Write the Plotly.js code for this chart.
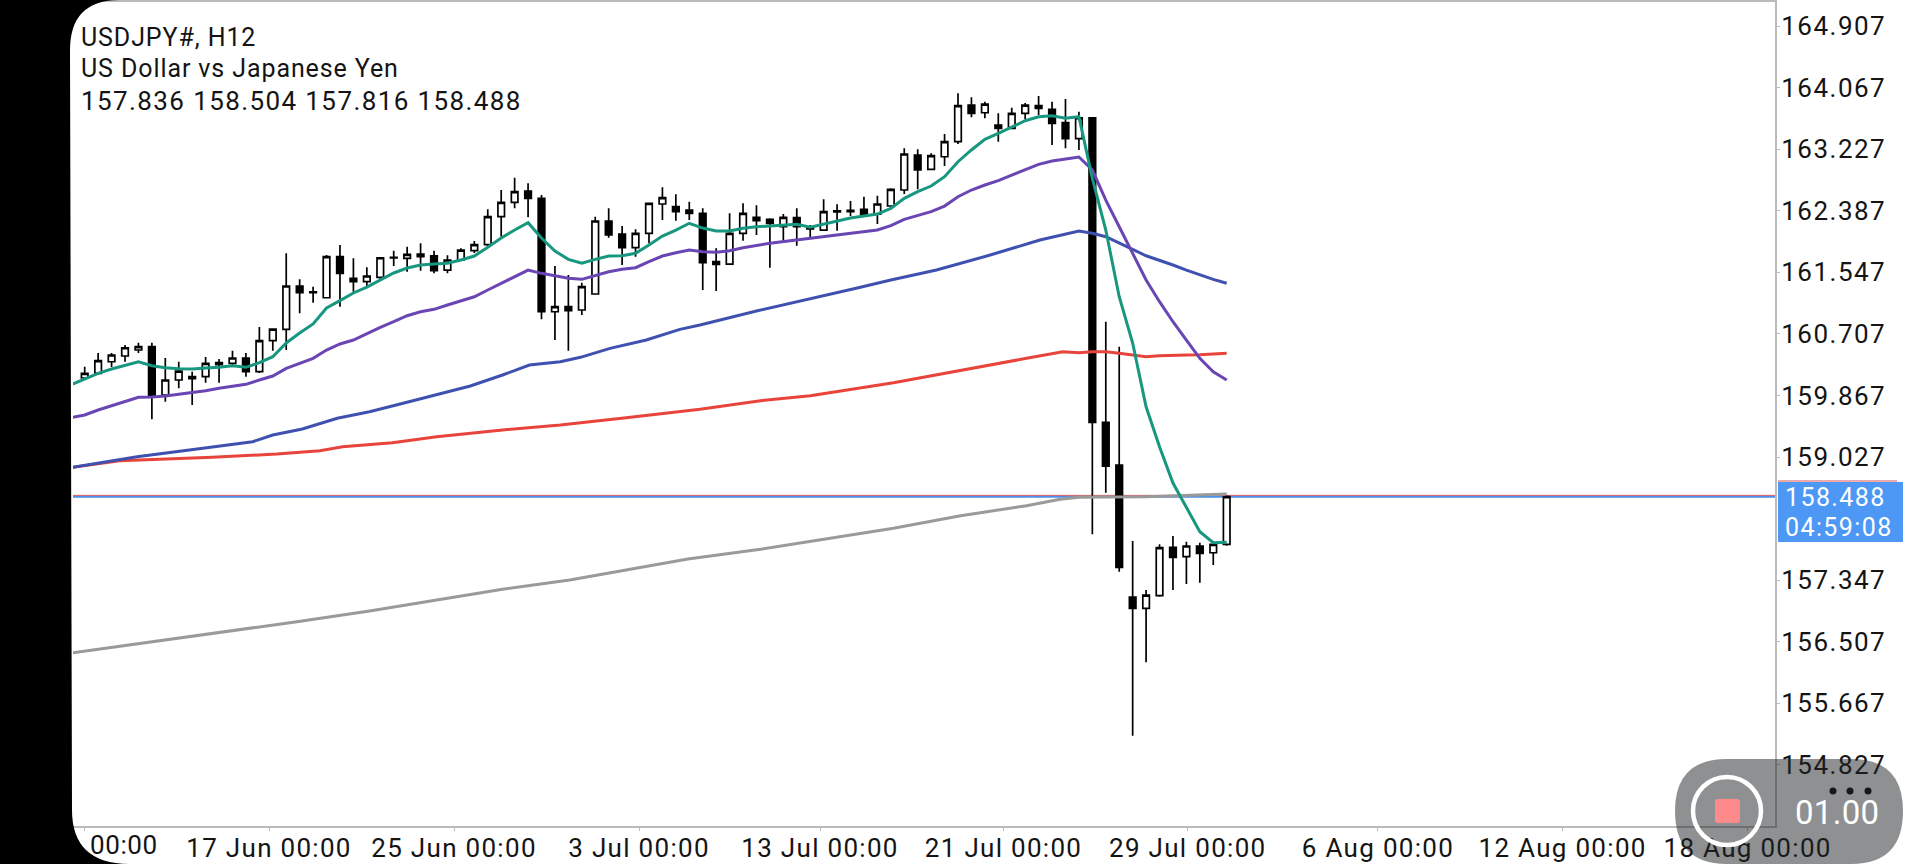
<!DOCTYPE html>
<html>
<head>
<meta charset="utf-8">
<script src="https://cdn.plot.ly/plotly-3.0.1.min.js"></script>
<style>
html,body{margin:0;padding:0;background:#fff;overflow:hidden}
.ytick text{letter-spacing:1.5px}
.xtick text{letter-spacing:1.3px}
.annotation-text{letter-spacing:.9px}
.annotation[data-index="2"] text,.annotation[data-index="3"] text,.annotation[data-index="4"] text{letter-spacing:1.4px}
.annotation[data-index="5"] text{letter-spacing:.6px}
.annotation[data-index="6"] text{letter-spacing:.3px}
</style>
</head>
<body>
<div id="graph" style="width:1920px;height:864px"></div>
<script>
const openP = [160.105,160.169,160.327,160.405,160.487,160.532,159.873,160.078,160.123,160.123,
160.314,160.305,160.378,160.191,160.614,160.769,161.360,161.282,161.200,161.760,
161.465,161.419,161.479,161.752,161.738,161.797,161.773,161.578,161.715,161.842,
161.924,162.306,162.502,162.656,162.557,161.009,161.078,161.033,161.251,162.247,
162.070,161.883,162.079,162.479,162.442,162.397,162.352,161.692,161.660,162.079,
162.297,162.270,162.169,162.292,162.156,162.124,162.387,162.393,162.407,162.342,
162.452,162.670,163.147,162.952,163.124,163.329,163.829,163.724,163.557,163.512,
163.716,163.820,163.771,163.588,163.370,163.656,159.501,158.918,157.117,156.963,
157.135,157.795,157.667,157.813,157.721,157.836];
const highP = [160.259,160.446,160.446,160.555,160.587,160.587,160.378,160.327,160.191,160.391,
160.364,160.477,160.446,160.801,160.773,161.806,161.452,161.351,161.783,161.919,
161.738,161.615,161.746,161.842,161.896,161.943,161.842,161.779,161.874,161.974,
162.407,162.670,162.838,162.761,162.602,161.633,161.510,161.405,162.306,162.420,
162.179,162.134,162.497,162.707,162.611,162.510,162.420,161.874,162.352,162.488,
162.461,162.284,162.342,162.420,162.192,162.543,162.475,162.520,162.578,162.592,
162.693,163.239,163.225,163.171,163.434,163.989,163.935,163.875,163.716,163.793,
163.857,163.952,163.875,163.911,163.738,163.666,160.873,160.532,157.881,157.213,
157.836,157.949,157.872,157.858,157.881,158.504];
const lowP = [160.078,160.146,160.255,160.327,160.446,159.542,159.782,159.964,159.737,160.041,
160.041,160.282,160.123,160.173,160.477,160.487,160.988,161.132,161.200,161.078,
161.282,161.351,161.442,161.633,161.555,161.569,161.533,161.533,161.715,161.810,
161.896,162.033,162.420,162.297,160.906,160.623,160.477,160.964,161.251,162.019,
161.647,161.760,161.943,162.261,162.251,162.261,161.306,161.292,161.660,161.978,
162.056,161.610,161.978,161.910,162.011,162.115,162.115,162.315,162.306,162.206,
162.442,162.615,162.679,162.952,162.997,163.297,163.662,163.648,163.329,163.512,
163.634,163.693,163.284,163.239,163.215,157.973,158.540,157.462,155.225,156.226,
157.121,157.213,157.295,157.312,157.554,157.816];
const closeP = [160.169,160.341,160.419,160.518,160.532,159.850,160.078,160.200,160.095,160.305,
160.286,160.378,160.191,160.614,160.773,161.360,161.269,161.269,161.760,161.533,
161.419,161.497,161.746,161.742,161.793,161.760,161.569,161.715,161.851,161.924,
162.306,162.502,162.647,162.557,161.009,161.078,161.023,161.351,162.247,162.056,
161.883,162.079,162.488,162.565,162.374,162.352,161.678,161.656,162.079,162.352,
162.251,162.216,162.297,162.169,162.138,162.374,162.370,162.374,162.342,162.479,
162.679,163.161,162.943,163.138,163.329,163.820,163.716,163.843,163.512,163.716,
163.829,163.784,163.580,163.370,163.656,159.501,158.904,157.522,156.963,157.144,
157.790,157.659,157.813,157.713,157.836,158.488];
const bars = openP.map((v,i)=>i);

const tealX = [-0.9,0,1,2,3,4,5,6,7,8,9,10,11,12,13,14,15,16,17,18,19,20,21,22,23,24,25,26,27,28,29,30,31,32,33,34,35,36,37,38,39,40,41,42,43,44,45,46,47,48,49,50,51,52,53,54,55,56,57,58,59,60,61,62,63,64,65,66,67,68,69,70,71,72,73,74,75,76,77,78,79,80,81,82,83,84,85];
const tealY = [160.023,160.087,160.169,160.228,160.282,160.327,160.273,160.245,160.232,160.228,160.241,160.251,160.273,160.251,160.314,160.396,160.583,160.719,160.842,161.060,161.160,161.265,161.346,161.442,161.538,161.606,161.647,161.660,161.670,161.715,161.769,161.888,162.015,162.124,162.224,162.015,161.838,161.724,161.670,161.724,161.769,161.773,161.806,161.919,162.042,162.124,162.216,162.151,162.110,162.110,162.147,162.169,162.179,162.192,162.202,162.161,162.206,162.251,162.288,162.315,162.342,162.420,162.557,162.647,162.724,162.851,163.056,163.216,163.362,163.443,163.533,163.615,163.670,163.684,163.648,163.670,162.829,162.124,161.214,160.582,159.713,159.168,158.672,158.331,158.008,157.858,157.863];

const purpleX = [-0.9,0,1,2,3,4,5,6,7,8,9,10,11,12,13,14,15,16,17,18,19,20,21,22,23,24,25,26,27,28,29,30,31,32,33,34,35,36,37,38,39,40,41,42,43,44,45,46,47,48,49,51,53,55,57,59,60,61,63,64,65,66,67,68,69,70,71,72,73,74,75,76,77,78,79,80,81,82,83,84,85];
const purpleY = [159.569,159.600,159.668,159.727,159.791,159.842,159.846,159.859,159.883,159.904,159.932,159.964,159.996,160.019,160.078,160.132,160.237,160.305,160.374,160.487,160.569,160.623,160.715,160.797,160.873,160.955,161.009,161.042,161.101,161.155,161.214,161.306,161.397,161.497,161.578,161.533,161.501,161.465,161.451,161.501,161.555,161.588,161.610,161.692,161.769,161.814,161.851,161.828,161.820,161.842,161.883,161.943,161.988,162.025,162.070,162.124,162.183,162.270,162.374,162.451,162.578,162.670,162.738,162.797,162.874,162.952,163.020,163.065,163.089,163.120,162.943,162.533,162.169,161.806,161.442,161.146,160.873,160.623,160.374,160.191,160.078];

const blueX = [-0.9,3.9,8.8,12.5,14,16.2,18.8,21.2,23.7,26.2,28.7,31.1,33.1,35.4,36.9,39.1,41.8,44.3,45.8,50,55,57.5,60,63.4,67.4,71.1,74,75,76,77,78,79,80,81,82,83,84,85];
const blueY = [158.887,159.031,159.146,159.236,159.327,159.409,159.555,159.645,159.760,159.873,159.996,160.146,160.282,160.327,160.387,160.509,160.623,160.769,160.828,161.019,161.224,161.333,161.442,161.578,161.783,161.988,162.110,162.079,162.033,161.951,161.861,161.773,161.715,161.647,161.578,161.510,161.451,161.397];

const redX = [-0.9,2.6,9.5,14.3,17.5,19.2,22.9,26.2,31.1,35.4,40.3,45.8,50.3,54,60.2,65.2,70.1,72.8,74,75,76,77,78,79,80,81,82,83,84,85];
const redY = [158.887,158.977,159.023,159.068,159.113,159.168,159.222,159.304,159.396,159.464,159.563,159.678,159.795,159.864,160.041,160.214,160.374,160.464,160.450,160.464,160.464,160.442,160.419,160.395,160.409,160.419,160.419,160.423,160.432,160.442];

const grayX = [-0.9,5.1,9.4,15.8,21.2,26.2,31.1,36.1,44.9,50.3,55.2,60.2,65.2,70.1,72.6,74,76,79,85];
const grayY = [156.357,156.507,156.612,156.780,156.926,157.076,157.222,157.349,157.636,157.768,157.908,158.054,158.226,158.363,158.450,158.477,158.481,158.486,158.523];

const yTicks = [164.907,164.067,163.227,162.387,161.547,160.707,159.867,159.027,157.347,156.507,155.667,154.827];
const xTicks = [-0.03,13.72,27.49,41.26,54.73,68.39,82.1,96.26,110,123.77];
const xTickText = ['','17 Jun 00:00','25 Jun 00:00','3 Jul 00:00','13 Jul 00:00','21 Jul 00:00','29 Jul 00:00','6 Aug 00:00','12 Aug 00:00','18 Aug 00:00'];
const lastBid = 158.488;
const lastAsk = 158.504;

// plot box in screen pixels
const L = 73, R = 1775, T = 2, B = 826;
const fx = px => ((px-L)/(R-L)).toFixed(5);
const fy = py => ((B-py)/(B-T)).toFixed(5);
// path from screen pixels, for the decorations around the chart only
function pp(cmds){
    return cmds.map(c => c[0] + c.slice(1).map((v,i)=> i%2==0 ? fx(v) : fy(v)).join(',')).join(' ');
}

function maLine(x,y,color,w){
    return {x:x,y:y,type:'scatter',mode:'lines',line:{color:color,width:w},hoverinfo:'skip',showlegend:false};
}

const data = [
    {
        x:bars,open:openP,high:highP,low:lowP,close:closeP,
        type:'candlestick',showlegend:false,whiskerwidth:0,width:0.42,
        increasing:{line:{color:'#000',width:1.7},fillcolor:'#fff'},
        decreasing:{line:{color:'#000',width:1.7},fillcolor:'#000'}
    },
    maLine(grayX,grayY,'#9a9a9a',3),
    maLine(redX,redY,'#e8443c',3),
    maLine(blueX,blueY,'#3f51b0',3),
    maLine(purpleX,purpleY,'#6a45b4',3),
    maLine(tealX,tealY,'#17977f',3)
];

const paperShape = (path,fill) => ({type:'path',xref:'paper',yref:'paper',layer:'above',path:path,fillcolor:fill,line:{width:0}});

const shapes = [
    // bid and ask lines
    {type:'line',xref:'paper',yref:'y',x0:0,x1:1,y0:lastBid,y1:lastBid,layer:'below',line:{color:'#4a90e8',width:2.5}},
    {type:'line',xref:'paper',yref:'y',x0:0,x1:1,y0:lastAsk,y1:lastAsk,layer:'below',line:{color:'#e2615f',width:1}},
    // price box
    paperShape(pp([['M',1778,482],['L',1903,482],['L',1903,542],['L',1778,542],['Z']]),'#4d97f5'),
    {type:'line',xref:'paper',yref:'paper',layer:'above',x0:fx(1778),x1:fx(1897),y0:fy(481),y1:fy(481),line:{color:'#d8565c',width:1}},
    // phone edge
    paperShape(pp([['M',0,0],['L',120,0],['Q',70,0,70,50],['L',72,810],['Q',72,864,130,864],['L',0,864],['Z']]),'#000'),
    // recorder widget
    paperShape(pp([['M',1727,759],['L',1851,759],['Q',1903,759,1903,811],['Q',1903,864,1851,864],['L',1727,864],['Q',1675,864,1675,811],['Q',1675,759,1727,759],['Z']]),'rgba(30,33,36,0.5)'),
    {type:'circle',xref:'paper',yref:'paper',layer:'above',x0:fx(1693),x1:fx(1761),y0:fy(845),y1:fy(777),line:{color:'#fff',width:4.5},fillcolor:'rgba(0,0,0,0)'},
    paperShape(pp([['M',1718,799],['L',1737,799],['Q',1740,799,1740,802],['L',1740,820],['Q',1740,823,1737,823],['L',1718,823],['Q',1715,823,1715,820],['L',1715,802],['Q',1715,799,1718,799],['Z']]),'#ff8a8c')
];
[1833,1850,1868].forEach(cx => shapes.push({type:'circle',xref:'paper',yref:'paper',layer:'above',
    x0:fx(cx-3.5),x1:fx(cx+3.5),y0:fy(794.5),y1:fy(787.5),fillcolor:'#15181b',line:{width:0}}));

const note = (px,py,text,size,color,anchor) => ({xref:'paper',yref:'paper',x:fx(px),y:fy(py),text:text,showarrow:false,
    xanchor:anchor||'left',yanchor:'middle',align:'left',font:{family:'Roboto',size:size,color:color||'#141414'}});

const annotations = [
    note(79,37,'USDJPY#, H12',25),
    note(79,68,'US Dollar vs Japanese Yen',25),
    note(79,101,'157.836 158.504 157.816 158.488',26),
    note(1783,497,'158.488',25,'#fff'),
    note(1783,527,'04:59:08',25,'#fff'),
    note(88,845,'00:00',26),
    note(1793,812,'01.00',33,'#fff')
];

const layout = {
    width:1920,height:864,
    margin:{l:L,r:1920-R,t:T,b:864-B,pad:0},
    paper_bgcolor:'#fff',plot_bgcolor:'#fff',
    showlegend:false,
    font:{family:'Roboto',size:26,color:'#141414'},
    xaxis:{
        range:[-0.871,125.81],tickmode:'array',tickvals:xTicks,ticktext:xTickText,
        rangeslider:{visible:false},showgrid:false,zeroline:false,
        ticks:'outside',ticklen:3,tickcolor:'#bbb',tickwidth:1,tickangle:0,ticklabelstandoff:-5,
        showline:true,linecolor:'#bbb',linewidth:2,mirror:true,
        tickfont:{family:'Roboto',size:26,color:'#141414'},fixedrange:true
    },
    yaxis:{
        range:[153.993,165.235],side:'right',tickmode:'array',tickvals:yTicks,
        ticktext:yTicks.map(v=>v.toFixed(3)),
        showgrid:false,zeroline:false,
        ticks:'outside',ticklen:3,tickcolor:'#bbb',tickwidth:1,ticklabelstandoff:-4,
        showline:true,linecolor:'#bbb',linewidth:2,
        tickfont:{family:'Roboto',size:26,color:'#141414'},fixedrange:true
    },
    shapes:shapes,
    annotations:annotations
};

Plotly.newPlot('graph',data,layout,{displayModeBar:false,staticPlot:true});
</script>
</body>
</html>
